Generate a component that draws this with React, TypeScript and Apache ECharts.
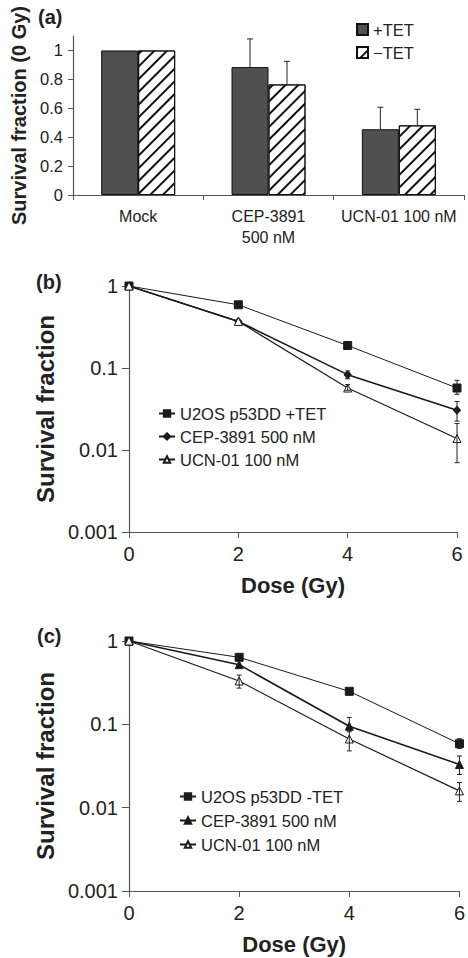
import React, { useEffect, useRef } from "react";
import * as echarts from "echarts";

// ---------- Panel (a) data ----------
const CATEGORIES = ["Mock", "CEP-3891\n500 nM", "UCN-01 100 nM"];
const TET_PLUS = [1, 0.885, 0.455];
const TET_PLUS_ERR_HIGH = [null, 1.08, 0.607];
const TET_MINUS = [1, 0.765, 0.482];
const TET_MINUS_ERR_HIGH = [null, 0.925, 0.593];
const A_TICKS = [0, 0.2, 0.4, 0.6, 0.8, 1];

// ---------- Panel (b) data ----------
const DOSES = [0, 2, 4, 6];
const DOSE_TICKS = [0, 2, 4, 6];
const B_TET_PLUS = [1, 0.59, 0.188, 0.057];
const B_CEP = [1, 0.37, 0.083, 0.0305];
const B_UCN = [1, 0.37, 0.057, 0.0138];
const B_TET_PLUS_ERR: (number[] | null)[] = [null, null, null, [0.0478, 0.0708]];
const B_CEP_ERR: (number[] | null)[] = [null, null, [0.074, 0.092], [0.0225, 0.039]];
const B_UCN_ERR: (number[] | null)[] = [null, null, [0.0535, 0.0628], [0.007, 0.021]];

// ---------- Panel (c) data ----------
const C_TET_MINUS = [1, 0.637, 0.249, 0.0585];
const C_CEP = [1, 0.52, 0.095, 0.033];
const C_UCN = [1, 0.331, 0.0667, 0.0159];
const C_TET_MINUS_ERR: (number[] | null)[] = [null, null, null, [0.0515, 0.0672]];
const C_CEP_ERR: (number[] | null)[] = [null, null, [0.0815, 0.121], [0.025, 0.0417]];
const C_UCN_ERR: (number[] | null)[] = [null, [0.272, 0.39], [0.048, 0.085], [0.0119, 0.02]];

const NAMES_B = ["U2OS p53DD +TET", "CEP-3891 500 nM#b", "UCN-01 100 nM#b"];
const NAMES_C = ["U2OS p53DD -TET", "CEP-3891 500 nM#c", "UCN-01 100 nM#c"];

const FONT = "'Liberation Sans', Arial, Helvetica, sans-serif";
const TXT = "#222";
const AX = "#555";
const BAR_W = 37;

function pairs(xs: number[], ys: number[]) {
  return xs.map((x, i) => [x, ys[i]]);
}
function errData(xs: number[], errs: (number[] | null)[]) {
  const out: number[][] = [];
  errs.forEach((e, i) => {
    if (e) out.push([xs[i], e[0], e[1]]);
  });
  return out;
}

function errRender(offset: number, capHalf: number, bottomCap: boolean) {
  return (params: any, api: any) => {
    const x = api.value(0);
    const lo = api.value(1);
    const hi = api.value(2);
    const pLo = api.coord([x, lo]);
    const pHi = api.coord([x, hi]);
    const cx = pLo[0] + offset;
    const st = { stroke: "#222", lineWidth: 1 };
    const children: any[] = [
      { type: "line", shape: { x1: cx, y1: pLo[1], x2: cx, y2: pHi[1] }, style: st },
      { type: "line", shape: { x1: cx - capHalf, y1: pHi[1], x2: cx + capHalf, y2: pHi[1] }, style: st },
    ];
    if (bottomCap) {
      children.push({
        type: "line",
        shape: { x1: cx - capHalf, y1: pLo[1], x2: cx + capHalf, y2: pLo[1] },
        style: st,
      });
    }
    return { type: "group", children };
  };
}

function lineAxisX(gridIndex: number) {
  return {
    type: "value",
    gridIndex,
    min: 0,
    max: 6,
    interval: 2,
    name: "Dose (Gy)",
    nameLocation: "middle",
    nameGap: 42,
    nameTextStyle: { fontFamily: FONT, fontSize: 22, fontWeight: "bold", color: TXT },
    axisLine: { show: true, lineStyle: { color: AX, width: 1.2 } },
    axisTick: { show: true, length: 6, lineStyle: { color: AX }, customValues: DOSE_TICKS },
    axisLabel: { fontFamily: FONT, fontSize: 20, color: TXT, margin: 12, customValues: DOSE_TICKS },
    splitLine: { show: false },
  };
}
function lineAxisY(gridIndex: number, gap: number) {
  return {
    type: "log",
    logBase: 10,
    gridIndex,
    min: 0.001,
    max: 1,
    name: "Survival fraction",
    nameLocation: "middle",
    nameGap: gap,
    nameTextStyle: { fontFamily: FONT, fontSize: 24, fontWeight: "bold", color: TXT },
    axisLine: { show: true, lineStyle: { color: AX, width: 1.2 } },
    axisTick: { show: true, length: 7, lineStyle: { color: AX } },
    axisLabel: {
      fontFamily: FONT,
      fontSize: 20,
      color: TXT,
      margin: 11,
      formatter: (v: number) => String(Number(v.toPrecision(3))),
    },
    splitLine: { show: false },
    minorTick: { show: false },
  };
}

function lineSeries(
  name: string,
  xIdx: number,
  ys: number[],
  symbol: string,
  size: number | number[],
  filled: boolean,
  lw: number
) {
  return {
    type: "line",
    name,
    xAxisIndex: xIdx,
    yAxisIndex: xIdx,
    data: pairs(DOSES, ys),
    symbol,
    symbolSize: size,
    showAllSymbol: true,
    lineStyle: { color: "#1a1a1a", width: lw },
    itemStyle: { color: filled ? "#1a1a1a" : "#ffffff", borderColor: "#1a1a1a", borderWidth: 1 },
    z: 3,
  };
}

function errSeries(xIdx: number, data: number[][]) {
  return {
    type: "custom",
    xAxisIndex: xIdx,
    yAxisIndex: xIdx,
    data,
    renderItem: errRender(0, 2.5, true),
    z: 4,
    silent: true,
  };
}

export default function App() {
  const ref = useRef<HTMLDivElement>(null);
  useEffect(() => {
    if (!ref.current) return;
    const chart = echarts.init(ref.current, null, { renderer: "svg" });
    const legendText = (size: number) => ({ fontFamily: FONT, fontSize: size, color: TXT });
    const option: any = {
      animation: false,
      backgroundColor: "#ffffff",
      textStyle: { fontFamily: FONT },
      grid: [
        { left: 73, top: 36, width: 391, height: 159 },
        { left: 129, top: 286, width: 328, height: 246 },
        { left: 129, top: 641, width: 331, height: 250 },
      ],
      xAxis: [
        {
          type: "category",
          gridIndex: 0,
          data: CATEGORIES,
          axisLine: { show: true, lineStyle: { color: AX, width: 1.2 } },
          axisTick: { show: true, length: 5, alignWithLabel: false, lineStyle: { color: AX } },
          axisLabel: { fontFamily: FONT, fontSize: 16, color: TXT, margin: 11, lineHeight: 21, interval: 0 },
        },
        lineAxisX(1),
        lineAxisX(2),
      ],
      yAxis: [
        {
          type: "value",
          gridIndex: 0,
          min: 0,
          max: 1.1,
          interval: 0.2,
          name: "Survival fraction (0 Gy)",
          nameLocation: "middle",
          nameGap: 37,
          nameTextStyle: { fontFamily: FONT, fontSize: 20, fontWeight: "bold", color: TXT },
          axisLine: { show: true, lineStyle: { color: AX, width: 1.2 } },
          axisTick: { show: true, length: 5, lineStyle: { color: AX }, customValues: A_TICKS },
          axisLabel: { fontFamily: FONT, fontSize: 16.5, color: TXT, margin: 10, customValues: A_TICKS },
          splitLine: { show: false },
        },
        lineAxisY(1, 62),
        lineAxisY(2, 65),
      ],
      legend: [
        {
          left: 351,
          top: 16,
          orient: "vertical",
          icon: "rect",
          itemWidth: 11,
          itemHeight: 11,
          itemGap: 6,
          selectedMode: false,
          data: ["+TET", "−TET"],
          textStyle: legendText(16.5),
        },
        {
          left: 153,
          top: 400,
          orient: "vertical",
          itemWidth: 16,
          itemHeight: 8,
          itemGap: 6,
          selectedMode: false,
          data: NAMES_B,
          formatter: (n: string) => n.split("#")[0],
          textStyle: legendText(16.5),
        },
        {
          left: 174,
          top: 783,
          orient: "vertical",
          itemWidth: 16,
          itemHeight: 8,
          itemGap: 7,
          selectedMode: false,
          data: NAMES_C,
          formatter: (n: string) => n.split("#")[0],
          textStyle: legendText(16.5),
        },
      ],
      graphic: [
        { type: "text", left: 38, top: 7, style: { text: "(a)", font: `bold 20px ${FONT}`, fill: TXT } },
        { type: "text", left: 36, top: 272, style: { text: "(b)", font: `bold 20px ${FONT}`, fill: TXT } },
        { type: "text", left: 37, top: 626, style: { text: "(c)", font: `bold 20px ${FONT}`, fill: TXT } },
      ],
      series: [
        {
          type: "bar",
          name: "+TET",
          xAxisIndex: 0,
          yAxisIndex: 0,
          data: TET_PLUS,
          barWidth: BAR_W,
          barGap: "0%",
          itemStyle: { color: "#505050", borderColor: "#111", borderWidth: 1 },
        },
        {
          type: "bar",
          name: "−TET",
          xAxisIndex: 0,
          yAxisIndex: 0,
          data: TET_MINUS,
          barWidth: BAR_W,
          barGap: "0%",
          itemStyle: {
            color: "#ffffff",
            borderColor: "#111",
            borderWidth: 1,
            decal: {
              symbol: "rect",
              symbolSize: 1,
              color: "#111",
              dashArrayX: [1, 0],
              dashArrayY: [2, 7],
              rotation: -Math.PI / 4,
            },
          },
        },
        {
          type: "custom",
          xAxisIndex: 0,
          yAxisIndex: 0,
          data: TET_PLUS.map((v, i) => [i, v, TET_PLUS_ERR_HIGH[i]]).filter((d) => d[2] != null),
          renderItem: errRender(-BAR_W / 2, 3, false),
          z: 4,
          silent: true,
        },
        {
          type: "custom",
          xAxisIndex: 0,
          yAxisIndex: 0,
          data: TET_MINUS.map((v, i) => [i, v, TET_MINUS_ERR_HIGH[i]]).filter((d) => d[2] != null),
          renderItem: errRender(BAR_W / 2, 3, false),
          z: 4,
          silent: true,
        },
        lineSeries(NAMES_B[0], 1, B_TET_PLUS, "rect", 8, true, 1),
        lineSeries(NAMES_B[1], 1, B_CEP, "diamond", [7, 8], true, 1.6),
        lineSeries(NAMES_B[2], 1, B_UCN, "triangle", 8, false, 1.2),
        errSeries(1, errData(DOSES, B_TET_PLUS_ERR)),
        errSeries(1, errData(DOSES, B_CEP_ERR)),
        errSeries(1, errData(DOSES, B_UCN_ERR)),
        lineSeries(NAMES_C[0], 2, C_TET_MINUS, "rect", 8, true, 1),
        lineSeries(NAMES_C[1], 2, C_CEP, "triangle", 8, true, 1.6),
        lineSeries(NAMES_C[2], 2, C_UCN, "triangle", 8, false, 1.2),
        errSeries(2, errData(DOSES, C_TET_MINUS_ERR)),
        errSeries(2, errData(DOSES, C_CEP_ERR)),
        errSeries(2, errData(DOSES, C_UCN_ERR)),
      ],
    };
    chart.setOption(option);
    return () => chart.dispose();
  }, []);
  return (
    <div
      ref={ref}
      style={{ position: "absolute", left: 0, top: 0, width: 468, height: 958, background: "#fff" }}
    />
  );
}
